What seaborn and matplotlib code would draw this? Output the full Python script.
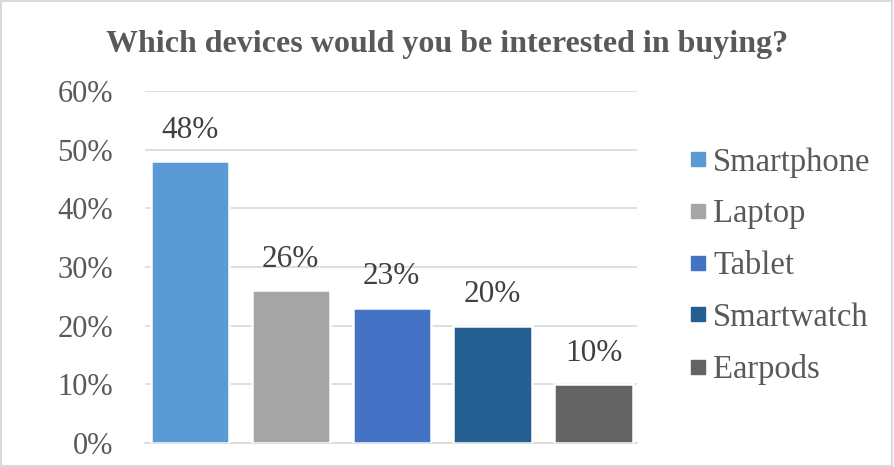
import matplotlib
matplotlib.use("Agg")
import matplotlib.pyplot as plt
from matplotlib.lines import Line2D
from matplotlib.patches import Rectangle
import seaborn as sns
import pandas as pd

devices = ["Smartphone", "Laptop", "Tablet", "Smartwatch", "Earpods"]
shares = [0.48, 0.26, 0.23, 0.20, 0.10]
colors = ["#5B9BD5", "#A5A5A5", "#4472C4", "#255E91", "#636363"]
y_ticks = [0.0, 0.1, 0.2, 0.3, 0.4, 0.5, 0.6]
y_tick_labels = ["0%", "10%", "20%", "30%", "40%", "50%", "60%"]
title = "Which devices would you be interested in buying?"

sns.set_theme(style="white")
plt.rcParams["font.family"] = ["Liberation Serif", "DejaVu Serif"]

df = pd.DataFrame({"device": devices, "share": shares})

fig = plt.figure(figsize=(8.94, 4.67), dpi=100)
ax = fig.add_axes([0.162, 0.0514, 0.5505, 0.7536])

sns.barplot(data=df, x="device", y="share", hue="device", palette=colors,
            order=devices, hue_order=devices, width=0.775, dodge=False,
            saturation=1, edgecolor="white", linewidth=1.8, legend=False,
            ax=ax, zorder=3)

ax.set_ylim(0, 0.6)
ax.set_xlim(-0.445, 4.43)
ax.set_yticks(y_ticks)
ax.set_yticklabels(y_tick_labels)
ax.set_xticks([])
ax.set_xlabel("")
ax.set_ylabel("")
ax.tick_params(axis="y", length=0, pad=23, labelsize=22, labelcolor="#595959")
ax.yaxis.grid(True, color="#D9D9D9", linewidth=1.2, zorder=0)
for side in ["top", "right", "left"]:
    ax.spines[side].set_visible(False)
ax.spines["bottom"].set_color("#D9D9D9")
ax.spines["bottom"].set_linewidth(1.2)

for container in ax.containers:
    labels = [f"{round(v * 100)}%" for v in container.datavalues]
    ax.bar_label(container, labels=labels, padding=12, fontsize=22.5, color="#404040")

fig.text(0.5, 0.905, title, ha="center", va="center", fontsize=23,
         fontweight="bold", color="#595959")

handles = [Line2D([0], [0], marker="s", linestyle="none", markersize=9.5,
                  markerfacecolor=c, markeredgecolor=c) for c in colors]
fig.legend(handles, devices, loc="center left", bbox_to_anchor=(0.7547, 0.43),
           frameon=False, fontsize=23.5, labelcolor="#595959", handletextpad=0.18,
           labelspacing=0.65, handlelength=0.6, borderaxespad=0)

fig.patches.append(Rectangle((0.001, 0.002), 0.997, 0.996, transform=fig.transFigure,
                             fill=False, edgecolor="#D9D9D9", linewidth=1.5))

fig.savefig("out.png", dpi=100)
